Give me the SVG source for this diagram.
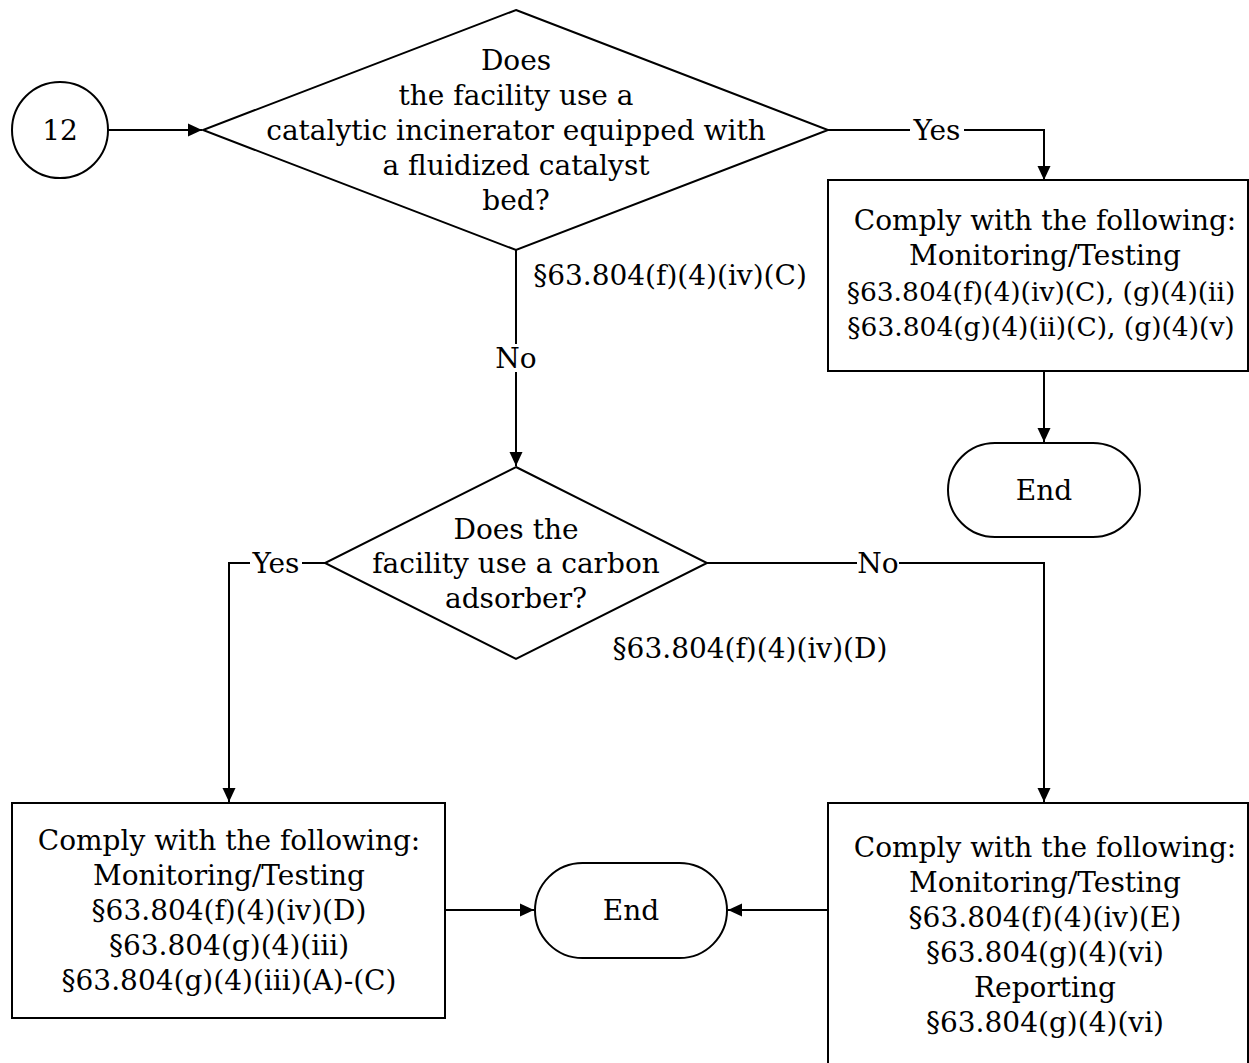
<svg xmlns="http://www.w3.org/2000/svg" width="1249" height="1063" viewBox="0 0 1249 1063">
<style>
text{font-family:"DejaVu Serif","Liberation Serif",serif;font-size:28px;fill:#000;text-anchor:middle}
text.n{font-size:26.5px}
.s{fill:#fff;stroke:#000;stroke-width:2}
.c{fill:none;stroke:#000;stroke-width:2}
.lb{fill:#fff;stroke:none}
</style>
<defs>
<marker id="a" markerWidth="15" markerHeight="15" refX="14" refY="7" orient="auto" markerUnits="userSpaceOnUse">
<path d="M0,0.5 L14,7 L0,13.5 Z" fill="#000"/>
</marker>
</defs>
<rect width="1249" height="1063" fill="#fff"/>
<g id="connectors">
<path class="c" d="M108,130 H202" marker-end="url(#a)"/>
<path class="c" d="M828,130 H1044 V180" marker-end="url(#a)"/>
<path class="c" d="M1044,371 V442" marker-end="url(#a)"/>
<path class="c" d="M516,250 V466" marker-end="url(#a)"/>
<path class="c" d="M325,563 H229 V802" marker-end="url(#a)"/>
<path class="c" d="M707,563 H1044 V802" marker-end="url(#a)"/>
<path class="c" d="M445,910 H534" marker-end="url(#a)"/>
<path class="c" d="M828,910 H728" marker-end="url(#a)"/>
<rect class="lb" x="910" y="116" width="54" height="28"/>
<text x="937" y="140">Yes</text>
<rect class="lb" x="497" y="344" width="38" height="28"/>
<text x="516" y="368">No</text>
<rect class="lb" x="250" y="549" width="52" height="28"/>
<text x="276" y="573">Yes</text>
<rect class="lb" x="857" y="549" width="42" height="28"/>
<text x="878" y="573">No</text>
<text x="670" y="285">§63.804(f)(4)(iv)(C)</text>
<text x="750" y="658">§63.804(f)(4)(iv)(D)</text>
</g>
<g id="start">
<circle class="s" cx="60" cy="130" r="48"/>
<text x="60" y="140">12</text>
</g>
<g id="decision1">
<polygon class="s" points="516,10 828,130 516,250 203,130"/>
<text x="516" y="70">Does</text>
<text x="516" y="105">the facility use a</text>
<text x="516" y="140">catalytic incinerator equipped with</text>
<text x="516" y="175">a fluidized catalyst</text>
<text x="516" y="210">bed?</text>
</g>
<g id="box1">
<rect class="s" x="828" y="180" width="420" height="191"/>
<text x="1045" y="230">Comply with the following:</text>
<text x="1045" y="265">Monitoring/Testing</text>
<text class="n" x="1041" y="301">§63.804(f)(4)(iv)(C), (g)(4)(ii)</text>
<text class="n" x="1041" y="336">§63.804(g)(4)(ii)(C), (g)(4)(v)</text>
</g>
<g id="end1">
<rect class="s" x="948" y="443" width="192" height="94" rx="47" ry="47"/>
<text x="1044" y="500">End</text>
</g>
<g id="decision2">
<polygon class="s" points="516,467 707,563 516,659 325,563"/>
<text x="516" y="539">Does the</text>
<text x="516" y="573">facility use a carbon</text>
<text x="516" y="608">adsorber?</text>
</g>
<g id="box2">
<rect class="s" x="12" y="803" width="433" height="215"/>
<text x="229" y="850">Comply with the following:</text>
<text x="229" y="885">Monitoring/Testing</text>
<text x="229" y="920">§63.804(f)(4)(iv)(D)</text>
<text x="229" y="955">§63.804(g)(4)(iii)</text>
<text x="229" y="990">§63.804(g)(4)(iii)(A)-(C)</text>
</g>
<g id="end2">
<rect class="s" x="535" y="863" width="192" height="95" rx="47.5" ry="47.5"/>
<text x="631" y="920">End</text>
</g>
<g id="box3">
<rect class="s" x="828" y="803" width="420" height="270"/>
<text x="1045" y="857">Comply with the following:</text>
<text x="1045" y="892">Monitoring/Testing</text>
<text x="1045" y="927">§63.804(f)(4)(iv)(E)</text>
<text x="1045" y="962">§63.804(g)(4)(vi)</text>
<text x="1045" y="997">Reporting</text>
<text x="1045" y="1032">§63.804(g)(4)(vi)</text>
</g>
</svg>
